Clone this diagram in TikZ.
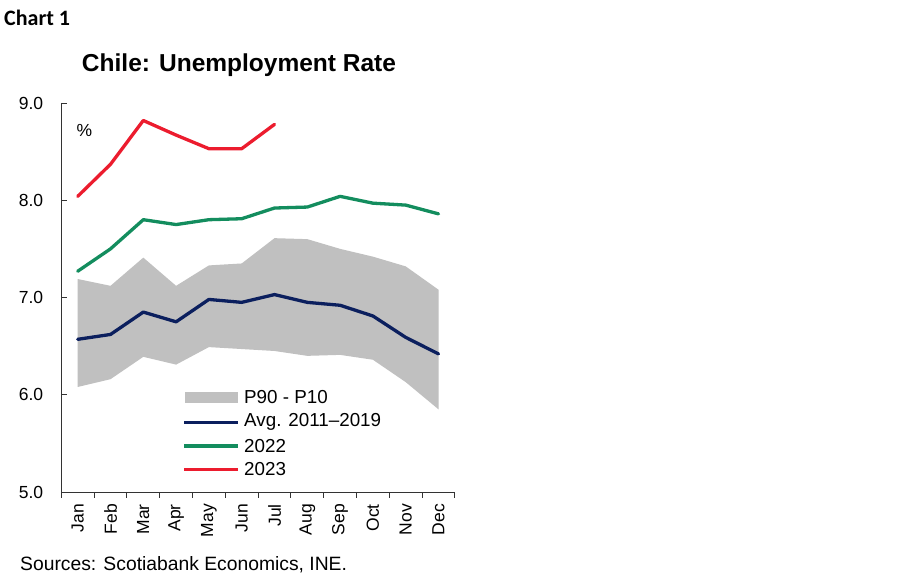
\documentclass[tikz,border=0pt]{standalone}
\usepackage{fontspec}
\setmainfont{Liberation Sans}
\newfontfamily\chartfont{Carlito}
\definecolor{cnavy}{HTML}{0B1F5E}
\definecolor{cgreen}{HTML}{138D5E}
\definecolor{cred}{HTML}{EC1C2E}
\definecolor{cband}{HTML}{C0C0C0}
\tikzset{
  serie/.style={line width=3.3pt, line join=round, line cap=round},
  lbl/.style={font=\fontsize{17.5}{19}\selectfont, inner sep=0pt},
  lgtxt/.style={font=\fontsize{18.8}{20}\selectfont, inner sep=0pt, anchor=west},
  axisline/.style={line width=0.9pt, black!80},
}
\begin{document}
\begin{tikzpicture}[x=1pt,y=1pt]
\useasboundingbox (0,0) rectangle (900,579);
\fill[white] (0,0) rectangle (900,579);
\node[anchor=west, inner sep=0pt, font=\chartfont\bfseries\fontsize{22}{24}\selectfont] (chart) at (4,561) {Chart 1};
\node[inner sep=0pt, font=\bfseries\fontsize{24.5}{27}\selectfont] (title) at (239,514) {Chile: Unemployment Rate};
\node[inner sep=0pt, anchor=west, font=\fontsize{19.3}{21}\selectfont] (src) at (20,14) {Sources: Scotiabank Economics, INE.};
\begin{scope}[x=32.8pt, y=97.25pt, shift={(44.9pt,-399.25pt)}]
  % band
  \fill[cband] (1,7.19) -- (2,7.12) -- (3,7.41) -- (4,7.12) -- (5,7.33) -- (6,7.35) -- (7,7.61) -- (8,7.60) -- (9,7.50) -- (10,7.42) -- (11,7.32) -- (12,7.08)
    -- (12,5.85) -- (11,6.13) -- (10,6.36) -- (9,6.41) -- (8,6.40) -- (7,6.45) -- (6,6.47) -- (5,6.49) -- (4,6.31) -- (3,6.39) -- (2,6.16) -- (1,6.08) -- cycle;
  % axes
  \coordinate (o) at (0.5,5);
  \coordinate (ytop) at (0.5,9);
  \coordinate (xend) at (12.5,5);
  \draw[axisline] (ytop) -- (o) -- (xend);
  \foreach \v in {5,6,7,8,9} {
    \draw[axisline] (0.5,\v) -- ++(6pt,0);
    \node[lbl, anchor=east] (yl\v) at ([xshift=-18pt]0.5,\v) {\v.0};
  }
  \foreach \i in {0,...,12} {
    \draw[axisline] (\i+0.5,5) -- ++(0,-6pt);
  }
  \foreach \m [count=\i] in {Jan,Feb,Mar,Apr,May,Jun,Jul,Aug,Sep,Oct,Nov,Dec} {
    \node[lbl, rotate=90, anchor=east] (m\i) at ([yshift=-12pt]\i,5) {\m};
  }
  \node[lbl, anchor=west] (pct) at ([xshift=15pt]0.5,8.72) {\%};
  % series
  \draw[serie, cnavy] plot coordinates {(1,6.57) (2,6.62) (3,6.85) (4,6.75) (5,6.98) (6,6.95) (7,7.03) (8,6.95) (9,6.92) (10,6.81) (11,6.59) (12,6.42)};
  \draw[serie, cgreen] plot coordinates {(1,7.27) (2,7.50) (3,7.80) (4,7.75) (5,7.80) (6,7.81) (7,7.92) (8,7.93) (9,8.04) (10,7.97) (11,7.95) (12,7.86)};
  \draw[serie, cred] plot coordinates {(1,8.04) (2,8.37) (3,8.82) (4,8.67) (5,8.53) (6,8.53) (7,8.78)};
\end{scope}
% legend
\fill[cband] (185,176) rectangle (238,186.5);
\node[lgtxt] (lg1) at (244,181.5) {P90 - P10};
\coordinate (a1) at (184,156.7);
\coordinate (a2) at (238,156.7);
\draw[line width=3.3pt, cnavy] (a1) -- (a2);
\node[lgtxt] (lg2) at (244,156.7) {Avg. 2011–2019};
\coordinate (b1) at (184,133);
\coordinate (b2) at (238,133);
\draw[line width=3.3pt, cgreen] (b1) -- (b2);
\node[lgtxt] (lg3) at (244,133) {2022};
\coordinate (c1) at (184,109.7);
\coordinate (c2) at (238,109.7);
\draw[line width=3.3pt, cred] (c1) -- (c2);
\node[lgtxt] (lg4) at (244,109.7) {2023};
\end{tikzpicture}
\end{document}
